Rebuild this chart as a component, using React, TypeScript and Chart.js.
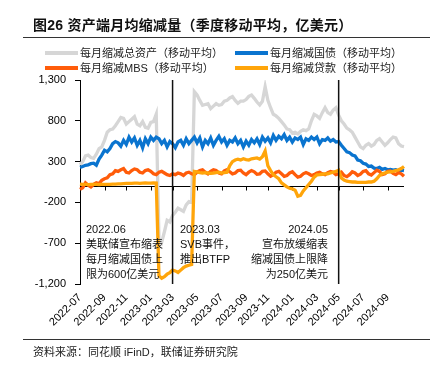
import React, { useEffect, useRef } from 'react';
import { Chart, registerables } from 'chart.js';

Chart.register(...registerables);

// Weekly observation dates (H.4.1 Wednesdays), 2022-07-06 .. 2024-10-16
const START_DATE = Date.UTC(2022, 6, 6);
const WEEK_COUNT = 120;
const weekDates: string[] = Array.from({ length: WEEK_COUNT }, (_, i) =>
  new Date(START_DATE + i * 7 * 86400000).toISOString().slice(0, 10)
);

// Event markers (vertical lines)
const markerDates = ['2023-03-01', '2024-05-01'];

// Y ticks
const yMin = -1200;
const yMax = 1300;
const yStep = 500;

// Series (亿美元, quarterly moving average)
const totalAssets = [
  260, 300, 370, 380, 350, 340, 390, 460, 480, 560,
  660, 690, 700, 740, 790, 840, 830, 760, 790, 820,
  850, 760, 740, 790, 720, 710, 780, 790, 880, -640,
  -690, -560, -420, -440, -360, -320, -270, -290, -310, -230,
  -190, -200, 1157, 1116, 1050, 990, 1000, 1010, 950, 980,
  1010, 990, 1000, 1040, 1050, 1080, 1096, 1050, 1014, 1040,
  1040, 1060, 1100, 1116, 1075, 1030, 994, 1040, 1218, 1050,
  960, 880, 860, 830, 790, 750, 700, 690, 650, 660,
  640, 670, 690, 680, 700, 800, 880, 860, 830, 900,
  960, 900, 880, 930, 960, 870, 800, 760, 710, 690,
  660, 600, 540, 480, 460, 500, 520, 490, 510, 560,
  580, 540, 500, 530, 570, 600, 590, 520, 490, 483,
];

const treasuries = [
  230, 240, 255, 260, 275, 280, 255, 330, 380, 440,
  420, 460, 520, 545, 530, 490, 560, 510, 600, 540,
  590, 500, 560, 470, 580, 520, 600, 560, 600, 580,
  520, 560, 480, 545, 520, 470, 540, 560, 500, 580,
  520, 560, 600, 530, 590, 480, 560, 520, 590, 500,
  560, 610, 540, 580, 500, 560, 540, 590, 520, 560,
  480, 550, 500, 570, 530, 580, 510, 600, 550, 590,
  530, 620, 560, 610, 580, 630, 560, 600, 540, 590,
  570, 600, 510, 580, 560, 600, 570, 600, 520, 570,
  560, 590, 550, 570, 540, 545, 500, 460, 420, 410,
  380, 370, 320, 310, 280, 270, 240, 245, 220, 215,
  230, 205, 215, 200, 205, 195, 200, 185, 195, 190,
];

const mbs = [
  -40, -20, 40, 10, -10, 20, 40, 30, 70, 90,
  100, 140, 150, 190, 180, 200, 215, 170, 160, 190,
  210, 200, 170, 160, 190, 200, 180, 150, 140, 170,
  180, 160, 140, 130, 150, 140, 160, 150, 130, 160,
  170, 150, 140, 170, 190, 200, 170, 150, 180, 200,
  190, 160, 150, 185, 200, 175, 150, 160, 190, 195,
  160, 140, 170, 190, 175, 145, 150, 180, 185, 150,
  120, 140, 170, 180, 150, 120, 130, 160, 175, 140,
  110, 120, 150, 165, 150, 130, 140, 160, 170, 150,
  140, 165, 180, 170, 140, 150, 170, 130, 115, 140,
  175, 160, 130, 145, 180, 190, 150, 135, 165, 195,
  180, 140, 150, 180, 185, 155, 140, 165, 150, 120,
];

const loans = [
  25, 20, 22, 18, 20, 22, 20, 18, 20, 22,
  20, 22, 25, 24, 26, 28, 30, 32, 34, 33,
  35, 36, 34, 36, 38, 37, 36, 38, 36, -1100,
  -1129, -1110, -1080, -1060, -1030, -1040, -1060, -1030, -1000, -980,
  -970, -960, 180, 175, 165, 160, 165, 160, 155, 160,
  165, 170, 160, 165, 170, 250, 300, 320, 330, 320,
  335, 325, 320, 335, 340, 345, 330, 360, 430, 250,
  190, 140, 115, 90, 40, 15, -10, -27, -35, -50,
  -125, -115, -60, -20, 20, 60, 110, 137, 140, 145,
  150, 150, 160, 170, 180, 195, 100, 75, 60, 55,
  50, 50, 45, 45, 45, 45, 50, 50, 60, 90,
  130, 150, 160, 170, 175, 180, 190, 200, 215, 240,
];

const seriesNames = [
  '每月缩减总资产（移动平均）',
  '每月缩减国债（移动平均）',
  '每月缩减MBS（移动平均）',
  '每月缩减贷款（移动平均）',
];
const seriesColors = ['#D6D6D6', '#0A74CF', '#FF5C0A', '#FFA50A'];

const tickLabel = (i: number): string | null => {
  const d = weekDates[i];
  if (!d) return null;
  const m = +d.slice(5, 7);
  const day = +d.slice(8, 10);
  return m % 2 === 1 && day <= 7 ? d.slice(0, 7) : null;
};

const overlayPlugin = {
  id: 'overlay',
  beforeDatasetsDraw(chart: any) {
    const { ctx, chartArea, scales } = chart;
    const x = scales.x;
    const y0 = Math.round(scales.y.getPixelForValue(0)) + 0.5;
    ctx.save();
    ctx.strokeStyle = '#000';
    ctx.lineWidth = 1;
    ctx.beginPath();
    ctx.moveTo(chartArea.left, y0);
    ctx.lineTo(chartArea.right, y0);
    for (let i = 0; i < weekDates.length; i++) {
      if (tickLabel(i)) {
        const px = Math.round(x.getPixelForValue(i)) + 0.5;
        ctx.moveTo(px, y0);
        ctx.lineTo(px, y0 + 4);
      }
    }
    ctx.stroke();
    ctx.restore();
  },
  afterDatasetsDraw(chart: any) {
    const { ctx, chartArea, scales } = chart;
    ctx.save();
    ctx.strokeStyle = '#111';
    ctx.lineWidth = 1.5;
    markerDates.forEach((md) => {
      const idx = weekDates.indexOf(md);
      if (idx < 0) return;
      const px = scales.x.getPixelForValue(idx);
      ctx.beginPath();
      ctx.moveTo(px, chartArea.top);
      ctx.lineTo(px, chartArea.bottom);
      ctx.stroke();
    });
    ctx.restore();
  },
};

const FONT = '"Liberation Sans", "Noto Sans CJK SC", Arial, sans-serif';

export default function App() {
  const ref = useRef<HTMLCanvasElement | null>(null);

  useEffect(() => {
    if (!ref.current) return;
    Chart.defaults.font.family = '"Liberation Sans", Arial, sans-serif';
    const data = [totalAssets, treasuries, mbs, loans];
    const chart = new Chart(ref.current, {
      type: 'line',
      data: {
        labels: weekDates,
        datasets: data.map((d, k) => ({
          label: seriesNames[k],
          data: d,
          borderColor: seriesColors[k],
          backgroundColor: seriesColors[k],
          borderWidth: 3.3,
          pointRadius: 0,
          tension: 0,
          order: 4 - k,
        })),
      },
      options: {
        responsive: false,
        animation: false,
        layout: { padding: { left: 0, right: 37, top: 80, bottom: 0 } },
        plugins: {
          legend: { display: false },
          tooltip: { enabled: false },
        },
        scales: {
          x: {
            type: 'category',
            grid: { display: false, drawTicks: false },
            border: { display: false },
            ticks: {
              autoSkip: false,
              minRotation: 45,
              maxRotation: 45,
              padding: 7,
              color: '#000',
              font: { size: 11 },
              callback: (_v: any, i: number) => tickLabel(i),
            },
            afterFit: (s: any) => {
              s.height = 84;
            },
          },
          y: {
            min: yMin,
            max: yMax,
            ticks: {
              stepSize: yStep,
              padding: 9,
              color: '#000',
              font: { size: 11 },
              callback: (v: any) => Number(v).toLocaleString('en-US'),
            },
            grid: { drawOnChartArea: false, drawTicks: true, tickLength: 5, color: '#000' },
            border: { display: true, color: '#000', width: 1 },
            afterFit: (s: any) => {
              s.width = 80;
            },
          },
        },
      } as any,
      plugins: [overlayPlugin],
    });
    return () => chart.destroy();
  }, []);

  const legendItems = [
    { x: 45, y: 53, k: 0 },
    { x: 235, y: 53, k: 1 },
    { x: 45, y: 68, k: 2 },
    { x: 235, y: 68, k: 3 },
  ];

  const textLine = (txt: string, key: number) => (
    <div key={key} style={{ height: 15, lineHeight: '15px', whiteSpace: 'nowrap' }}>{txt}</div>
  );

  return (
    <div
      style={{
        position: 'fixed', left: 0, top: 0, width: 441, height: 368,
        background: '#fff', overflow: 'hidden', fontFamily: FONT, color: '#111',
      }}
    >
      <canvas ref={ref} width={441} height={368} style={{ position: 'absolute', left: 0, top: 0, width: 441, height: 368 }} />
      <div style={{ position: 'absolute', left: 33, top: 15, height: 20, lineHeight: '20px', fontSize: 14, letterSpacing: 0.25, fontWeight: 700, whiteSpace: 'nowrap', color: '#111' }}>
        图26 资产端月均缩减量（季度移动平均，亿美元）
      </div>
      <div style={{ position: 'absolute', left: 23, top: 36.5, width: 407, height: 1.8, background: '#333' }} />
      {legendItems.map((it) => (
        <React.Fragment key={it.k}>
          <div style={{ position: 'absolute', left: it.x, top: it.y - 2, width: 33, height: 4, background: seriesColors[it.k] }} />
          <div style={{ position: 'absolute', left: it.x + 35, top: it.y - 7.5, height: 15, lineHeight: '15px', fontSize: 11, whiteSpace: 'nowrap', color: '#222' }}>
            {seriesNames[it.k]}
          </div>
        </React.Fragment>
      ))}
      <div style={{ position: 'absolute', left: 86, top: 222, fontSize: 11 }}>
        {['2022.06', '美联储宣布缩表', '每月缩减国债上', '限为600亿美元'].map(textLine)}
      </div>
      <div style={{ position: 'absolute', left: 180, top: 222, fontSize: 11 }}>
        {['2023.03', 'SVB事件，', '推出BTFP'].map(textLine)}
      </div>
      <div style={{ position: 'absolute', right: 113, top: 222, fontSize: 11, textAlign: 'right' }}>
        {['2024.05', '宣布放缓缩表', '缩减国债上限降', '为250亿美元'].map(textLine)}
      </div>
      <div style={{ position: 'absolute', left: 23, top: 339, width: 407, height: 1, background: '#333' }} />
      <div style={{ position: 'absolute', left: 33, top: 344, height: 16, lineHeight: '16px', fontSize: 11, whiteSpace: 'nowrap', color: '#222' }}>
        资料来源：同花顺 iFinD，联储证券研究院
      </div>
    </div>
  );
}
